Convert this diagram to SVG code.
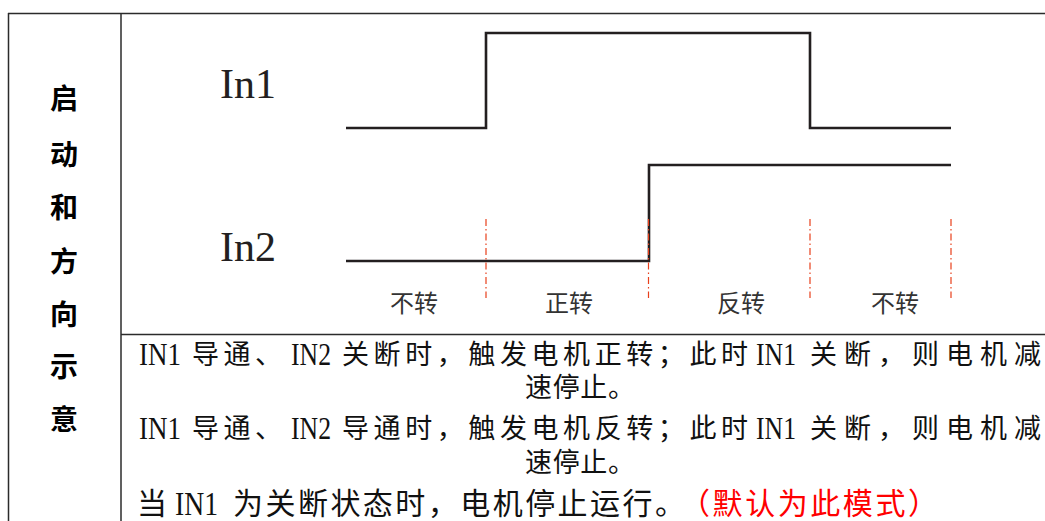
<svg xmlns="http://www.w3.org/2000/svg" width="1045" height="521" viewBox="0 0 1045 521">
<style>
.grid{stroke:#2b2b2b;stroke-width:1.5;fill:none}
.wave{stroke:#231f20;stroke-width:2.6;fill:none;stroke-linejoin:miter}
.mark{stroke:#e8401c;stroke-width:1.2;stroke-dasharray:7 3 1.5 3;fill:none}
.side{font-family:"Noto Sans CJK SC",sans-serif;font-weight:bold;font-size:28px;fill:#000;text-anchor:middle}
.sig{font-family:"Liberation Serif",serif;font-size:42px;fill:#231f20}
.lab{font-family:"Noto Sans CJK SC",sans-serif;font-size:24px;fill:#333;text-anchor:middle}
.cj{font-family:"Noto Sans CJK SC",sans-serif;font-size:27px;fill:#111}
.lt{font-family:"Liberation Serif",serif;font-size:32px;fill:#111}
.big{font-size:30px}
.lt.big{font-size:34px}
.red{fill:#ff0000}
</style>
<rect width="1045" height="521" fill="#fff"/>
<g id="table">
<line class="grid" x1="8" y1="13.5" x2="1045" y2="13.5"/>
<line class="grid" x1="8.5" y1="13" x2="8.5" y2="521"/>
<line class="grid" x1="121" y1="13" x2="121" y2="521"/>
<line class="grid" x1="121" y1="334.5" x2="1045" y2="334.5"/>
</g>
<g id="side-title">
<text class="side" x="64" y="109">启</text>
<text class="side" x="64" y="165">动</text>
<text class="side" x="64" y="218">和</text>
<text class="side" x="64" y="272">方</text>
<text class="side" x="64" y="325">向</text>
<text class="side" x="64" y="377">示</text>
<text class="side" x="64" y="430">意</text>
</g>
<g id="in1">
<text class="sig" x="220" y="98">In1</text>
<polyline class="wave" points="346,128 486,128 486,33 810,33 810,128 951,128"/>
</g>
<g id="in2">
<text class="sig" x="220" y="261">In2</text>
<polyline class="wave" points="346,261 649,261 649,165 951,165"/>
</g>
<g id="markers">
<line class="mark" x1="486" y1="219" x2="486" y2="298"/>
<line class="mark" x1="648.5" y1="219" x2="648.5" y2="298"/>
<line class="mark" x1="810" y1="219" x2="810" y2="298"/>
<line class="mark" x1="951" y1="219" x2="951" y2="298"/>
</g>
<g id="labels">
<text class="lab" x="414" y="312">不转</text>
<text class="lab" x="569" y="312">正转</text>
<text class="lab" x="741" y="312">反转</text>
<text class="lab" x="895" y="312">不转</text>
</g>
<g id="description">
<g id="line1">
<text class="lt" x="139" y="365" textLength="42" lengthAdjust="spacingAndGlyphs">IN1</text>
<text class="cj" x="192" y="364" textLength="90" lengthAdjust="spacing">导通、</text>
<text class="lt" x="291" y="365" textLength="40" lengthAdjust="spacingAndGlyphs">IN2</text>
<text class="cj" x="342" y="364" textLength="406" lengthAdjust="spacing">关断时，触发电机正转；此时</text>
<text class="lt" x="756" y="365" textLength="40" lengthAdjust="spacingAndGlyphs">IN1</text>
<text class="cj" x="810" y="364" textLength="231" lengthAdjust="spacing">关断，则电机减</text>
</g>
<text class="cj" x="525" y="397" textLength="110" lengthAdjust="spacing">速停止。</text>
<g id="line3">
<text class="lt" x="139" y="439" textLength="42" lengthAdjust="spacingAndGlyphs">IN1</text>
<text class="cj" x="192" y="438" textLength="90" lengthAdjust="spacing">导通、</text>
<text class="lt" x="291" y="439" textLength="40" lengthAdjust="spacingAndGlyphs">IN2</text>
<text class="cj" x="342" y="438" textLength="406" lengthAdjust="spacing">导通时，触发电机反转；此时</text>
<text class="lt" x="756" y="439" textLength="40" lengthAdjust="spacingAndGlyphs">IN1</text>
<text class="cj" x="810" y="438" textLength="231" lengthAdjust="spacing">关断，则电机减</text>
</g>
<text class="cj" x="525" y="472" textLength="110" lengthAdjust="spacing">速停止。</text>
<g id="line5">
<text class="cj big" x="137" y="514">当</text>
<text class="lt big" x="175" y="515" textLength="43" lengthAdjust="spacingAndGlyphs">IN1</text>
<text class="cj big" x="233" y="514" textLength="452" lengthAdjust="spacing">为关断状态时，电机停止运行。</text>
<text class="cj big red" x="680" y="514" textLength="258" lengthAdjust="spacing">（默认为此模式）</text>
</g>
</g>
</svg>
